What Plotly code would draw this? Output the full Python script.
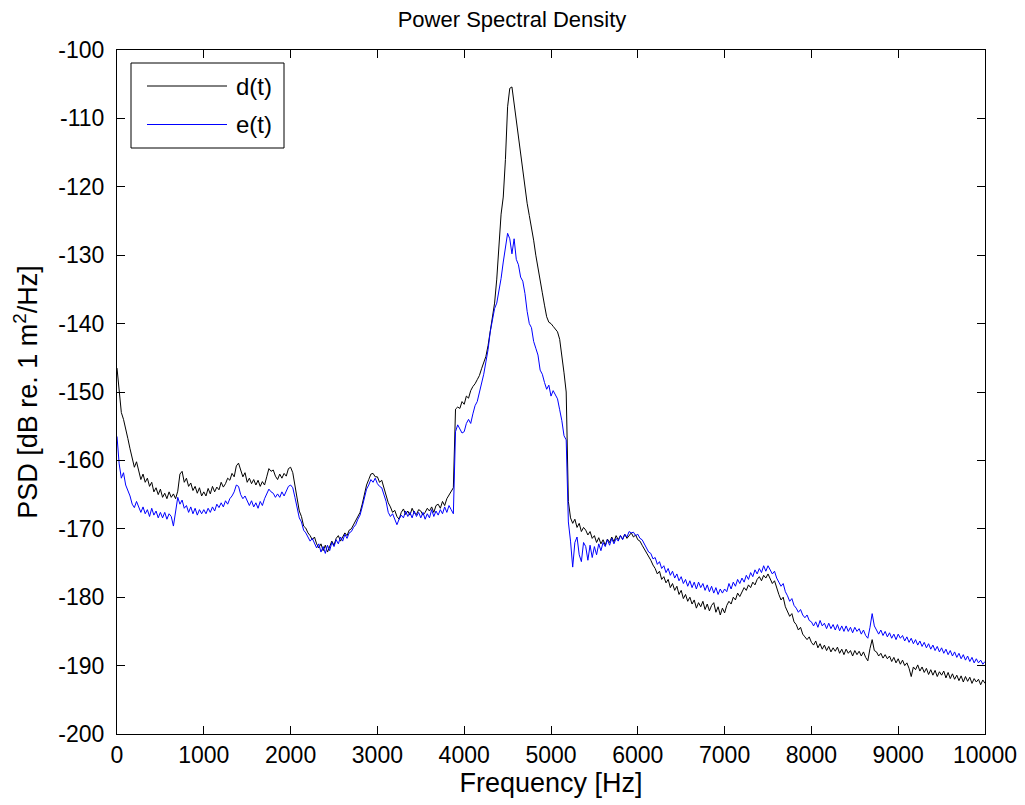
import plotly.graph_objects as go

freq_step = 25
freq_hz = list(range(0, 10001, freq_step))

# d(t), dB, every 25 Hz (20 values per 500 Hz row)
psd_d = [
    -146.5, -150.0, -153.0, -154.0, -155.2, -156.8, -158.3, -159.5, -161.0, -160.2, -161.5, -162.8, -162.0, -163.2, -162.6, -163.8, -163.2, -164.6, -164.0, -165.0,
    -164.2, -165.4, -164.8, -165.6, -164.6, -165.4, -164.9, -165.6, -164.5, -162.0, -161.6, -163.2, -162.6, -163.8, -163.3, -164.4, -163.8, -164.8, -164.0, -165.2,
    -164.6, -165.2, -164.1, -164.9, -163.8, -164.6, -163.9, -164.3, -163.2, -163.9, -163.4, -162.6, -162.9, -161.9, -162.4, -160.8, -160.4, -161.6, -162.4, -161.8,
    -163.2, -162.6, -163.4, -162.8, -163.6, -162.9, -163.8, -163.1, -163.6, -162.4, -161.2, -161.6, -161.4, -162.3, -162.8, -162.0, -162.6, -161.9, -162.3, -161.2,
    -161.0, -161.8, -163.6, -165.8, -167.4, -168.2, -169.6, -169.9, -170.6, -171.0, -171.6, -171.2, -172.2, -172.8, -172.2, -173.2, -172.4, -173.4, -172.6, -171.8,
    -172.4, -171.4, -171.0, -171.8, -171.2, -170.6, -171.0, -170.2, -170.0, -169.4, -169.0, -168.2, -167.6, -166.4, -165.0, -163.6, -162.8, -162.0, -161.9, -162.4,
    -162.4, -163.2, -162.9, -164.0, -165.2, -166.2, -166.8, -167.6, -167.3, -168.2, -168.6, -167.6, -167.1, -167.9, -167.4, -168.0, -167.0, -167.7, -167.9, -167.2,
    -167.4, -168.0, -167.6, -167.0, -167.4, -166.8, -167.6, -166.6, -166.4, -167.0, -166.0, -166.6, -165.6, -165.0, -164.6, -164.0, -152.5, -152.2, -152.4, -151.4,
    -151.8, -150.6, -150.9, -149.8, -149.2, -148.8, -148.2, -147.6, -146.6, -145.8, -144.8, -143.2, -141.2, -139.0, -137.0, -133.5, -128.0, -124.0, -121.5, -116.0,
    -108.3, -105.6, -105.4, -107.8, -110.8, -112.7, -115.4, -117.6, -120.0, -122.4, -124.2, -125.8, -127.8, -130.0, -132.0, -134.0, -135.5, -137.3, -139.0, -139.8,
    -140.0, -140.4, -140.8, -141.2, -142.3, -144.5, -147.2, -150.0, -166.0, -168.4, -169.2, -168.6, -169.8, -169.2, -170.4, -169.8, -170.2, -170.9, -170.4, -171.4,
    -171.0, -172.0, -171.3, -172.2, -171.6, -172.4, -171.5, -172.0, -171.2, -171.9, -171.0, -171.6, -171.0, -171.5, -170.8, -171.4, -171.0, -170.6, -171.2, -170.9,
    -171.6, -171.8, -172.4, -172.9, -173.6, -174.0, -174.6, -175.3, -175.8, -176.6, -176.2, -177.4, -177.0, -177.9, -177.4, -178.6, -178.0, -179.0, -178.4, -179.6,
    -179.0, -180.2, -179.6, -180.6, -180.0, -181.0, -180.4, -181.6, -180.8, -181.4, -180.6, -181.8, -181.0, -182.0, -181.2, -180.8, -182.2, -181.4, -182.6, -181.6,
    -182.3, -181.2, -180.6, -181.0, -180.0, -180.4, -179.4, -179.9, -179.2, -178.6, -179.0, -178.2, -178.6, -177.8, -178.2, -177.4, -177.0, -177.6, -176.8, -177.2,
    -176.6, -177.4, -178.0, -177.6, -178.8, -179.6, -180.4, -180.0, -181.4, -182.0, -182.8, -182.4, -183.6, -184.0, -184.8, -184.4, -185.4, -185.8, -186.2, -185.8,
    -186.6, -187.0, -186.4, -187.4, -186.8, -187.6, -187.0, -187.8, -187.2, -188.0, -187.4, -187.9, -187.3, -188.2, -187.6, -188.4, -187.6, -188.2, -187.8, -188.6,
    -187.8, -188.4, -187.9, -188.6, -188.0, -188.8, -189.3, -187.5, -186.2, -187.8, -188.0, -188.6, -188.2, -188.9, -188.4, -189.0, -188.6, -189.4, -188.8, -189.6,
    -189.0, -189.8, -189.2, -190.0, -189.6, -190.4, -191.6, -190.2, -190.6, -189.9, -190.8, -190.2, -191.0, -190.4, -191.3, -190.6, -191.4, -190.7, -191.6, -190.9,
    -191.4, -190.8, -191.8, -191.0, -191.9, -191.2, -192.0, -191.4, -192.2, -191.5, -192.4, -191.6, -192.3, -191.7, -192.6, -191.9, -192.4, -192.0, -192.8, -192.1,
    -192.6,
]

# e(t), dB, every 25 Hz
psd_e = [
    -156.5, -160.5, -162.6, -161.8, -163.6, -164.4, -165.2, -166.4, -166.9, -166.0, -166.8, -167.6, -166.8, -167.8, -167.2, -168.2, -167.0, -168.0, -167.4, -168.4,
    -167.6, -168.4, -167.6, -168.6, -167.8, -168.2, -169.6, -167.6, -165.4, -166.4, -165.8, -167.0, -166.6, -167.6, -166.8, -167.8, -167.0, -168.0, -167.2, -167.8,
    -167.2, -167.8, -167.0, -167.6, -166.8, -167.4, -166.4, -166.9, -166.2, -166.8, -165.9, -166.4, -165.6, -165.2, -164.6, -163.6, -163.8, -165.0, -165.6, -165.2,
    -166.0, -166.6, -165.9, -166.8, -166.2, -167.0, -166.0, -166.6, -165.6, -165.0, -164.2, -164.6, -164.8, -165.4, -164.9, -165.4, -164.6, -165.2, -164.6, -163.8,
    -163.6, -164.0, -165.4, -166.8, -168.4, -169.0, -170.2, -170.6, -171.2, -171.8, -171.4, -172.2, -172.8, -172.2, -173.4, -172.6, -173.6, -172.4, -173.2, -172.0,
    -172.6, -171.6, -172.2, -171.2, -171.8, -170.8, -171.4, -170.6, -170.4, -169.8, -169.4, -168.6, -168.0, -166.8, -165.6, -164.2, -163.6, -162.8, -163.2, -162.6,
    -163.4, -163.8, -164.0, -165.0, -166.0, -167.6, -168.2, -167.8, -168.6, -169.4, -168.6, -168.0, -168.4, -167.4, -168.2, -167.6, -168.4, -167.4, -168.2, -167.6,
    -168.4, -167.6, -168.6, -167.8, -168.4, -167.2, -168.2, -167.4, -168.0, -167.2, -167.8, -166.8, -167.6, -166.6, -167.2, -167.8, -155.8, -154.8, -155.4, -156.0,
    -155.8, -154.6, -154.0, -154.6, -153.2, -152.0, -151.4, -150.0, -149.0, -147.4, -145.6, -143.8, -141.2, -139.4, -137.8, -137.0, -135.4, -133.4, -131.0, -128.8,
    -126.8, -127.6, -129.8, -127.6, -130.6, -131.4, -133.2, -133.8, -135.6, -138.2, -140.0, -140.6, -142.6, -143.6, -144.6, -146.8, -147.4, -148.6, -149.6, -149.0,
    -150.6, -149.8, -150.4, -151.0, -152.6, -154.2, -156.4, -157.0, -169.0, -171.8, -175.6, -172.0, -171.2, -173.8, -174.8, -172.0, -172.6, -174.6, -172.4, -174.2,
    -172.6, -173.8, -172.2, -173.2, -172.0, -172.6, -171.6, -172.4, -171.4, -172.2, -171.4, -171.8, -171.0, -171.6, -170.8, -171.2, -170.4, -170.6, -170.5, -171.0,
    -170.8, -171.4, -171.6, -172.2, -172.6, -173.4, -173.6, -174.4, -174.2, -175.2, -174.8, -175.8, -175.4, -176.4, -175.8, -176.8, -176.2, -177.2, -176.6, -177.6,
    -177.0, -178.0, -177.4, -178.4, -177.6, -178.6, -177.8, -178.8, -177.8, -178.6, -178.0, -179.0, -178.2, -179.2, -178.4, -179.4, -178.6, -179.6, -178.8, -179.4,
    -178.8, -179.2, -178.0, -178.8, -177.8, -178.4, -177.4, -178.0, -177.2, -177.8, -176.8, -177.4, -176.4, -177.0, -176.0, -176.6, -175.8, -176.4, -175.4, -176.2,
    -175.4, -176.0, -176.6, -176.2, -177.2, -177.8, -178.4, -178.0, -179.2, -179.8, -180.6, -180.2, -181.2, -181.6, -182.2, -181.8, -182.6, -183.0, -182.6, -183.4,
    -183.6, -184.2, -183.6, -184.4, -183.4, -184.2, -183.8, -184.6, -183.8, -184.6, -184.0, -184.8, -184.0, -184.9, -184.2, -185.0, -184.2, -185.0, -184.4, -185.2,
    -184.4, -185.0, -184.6, -185.4, -184.8, -185.6, -186.0, -184.4, -182.4, -184.2, -184.8, -185.4, -184.8, -185.6, -185.0, -185.8, -185.2, -186.0, -185.4, -186.2,
    -185.4, -186.0, -185.6, -186.4, -185.8, -186.6, -186.0, -186.8, -186.2, -187.0, -186.4, -187.2, -186.6, -187.4, -186.8, -187.6, -187.0, -187.8, -187.2, -188.0,
    -187.4, -188.2, -187.6, -188.4, -187.8, -188.6, -188.0, -188.8, -188.2, -189.0, -188.4, -189.2, -188.6, -189.4, -188.8, -189.6, -189.0, -189.6, -189.2, -189.8,
    -189.4,
]

series_names = ["d(t)", "e(t)"]
series_colors = ["#000000", "#0000ff"]
x_ticks = list(range(0, 10001, 1000))
x_tick_text = [str(v) for v in x_ticks]
y_ticks = list(range(-200, -99, 10))
y_tick_text = [str(v) for v in y_ticks]

FONT = "Liberation Sans, Arial, sans-serif"
OFF = 8  # page body margin offset in the browser
W, H = 1025 - OFF, 805 - OFF
L, T = 117 - OFF, 50 - OFF
R = W - (985 - OFF)
B = H - (734 - OFF)
pw, ph = W - L - R, H - T - B

def px(xp):
    return (xp - OFF - L) / pw

def py(yp):
    return (H - B - (yp - OFF)) / ph

fig = go.Figure()
for name, vals, col in zip(series_names, [psd_d, psd_e], series_colors):
    fig.add_trace(go.Scatter(x=freq_hz, y=vals, mode="lines", name=name,
                             line=dict(color=col, width=1), showlegend=False))

axis_common = dict(showline=True, linecolor="black", linewidth=1, mirror="ticks",
                   ticks="inside", ticklen=8, tickcolor="black", tickwidth=1,
                   showgrid=False, zeroline=False, automargin=False,
                   tickfont=dict(family=FONT, size=23, color="black"))

fig.update_xaxes(range=[0, 10000], tickvals=x_ticks, ticktext=x_tick_text,
                 title=dict(text="Frequency [Hz]", font=dict(family=FONT, size=27, color="black"), standoff=0),
                 **axis_common)
fig.update_yaxes(range=[-200, -100], tickvals=y_ticks, ticktext=y_tick_text,
                 ticklabelstandoff=7,
                 title=dict(text="PSD [dB re. 1 m<sup>2</sup>/Hz]", font=dict(family=FONT, size=27, color="black"), standoff=12),
                 **axis_common)

# legend box drawn in MATLAB style
shapes = [
    dict(type="rect", xref="paper", yref="paper", x0=px(131), x1=px(284), y0=py(148), y1=py(63),
         line=dict(color="black", width=1), fillcolor="white", layer="above"),
]
leg_y = [86, 124.5]
annotations = []
for name, col, yy in zip(series_names, series_colors, leg_y):
    shapes.append(dict(type="line", xref="paper", yref="paper", x0=px(147), x1=px(227),
                       y0=py(yy), y1=py(yy), line=dict(color=col, width=1), layer="above"))
    annotations.append(dict(xref="paper", yref="paper", x=px(234), y=py(yy), text=name,
                            showarrow=False, xanchor="left", yanchor="middle",
                            font=dict(family=FONT, size=24, color="black")))

fig.update_layout(
    width=W, height=H,
    margin=dict(l=L, r=R, t=T, b=B, pad=0, autoexpand=False),
    paper_bgcolor="white", plot_bgcolor="white",
    title=dict(text="Power Spectral Density", x=(512 - OFF) / W, xanchor="center",
               y=1 - 4 / H, yanchor="top", yref="container",
               font=dict(family=FONT, size=22, color="black")),
    shapes=shapes, annotations=annotations,
)

fig.write_html("out.html")
